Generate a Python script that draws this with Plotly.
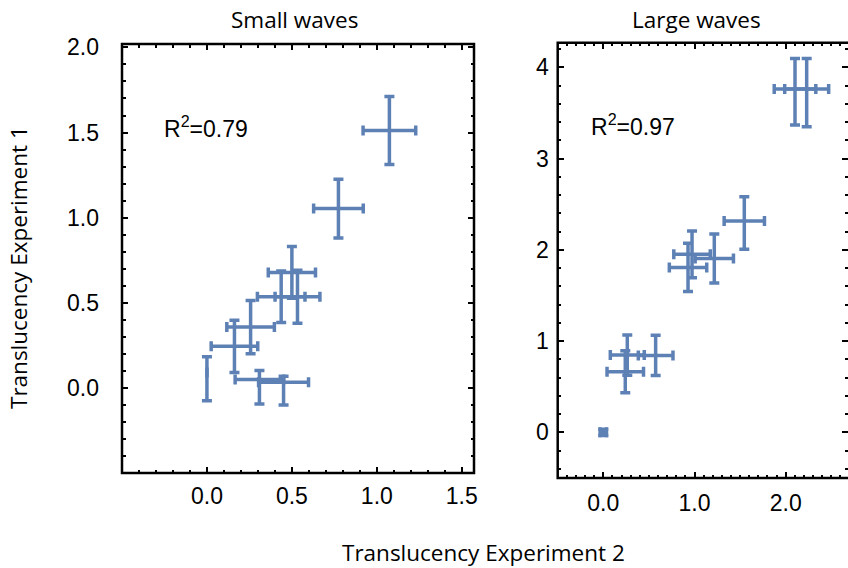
import plotly.graph_objects as go

# ---------------- data ----------------
# Small waves panel
small_x = [1.074, 0.774, 0.500, 0.437, 0.533, 0.257, 0.162, 0.000, 0.309, 0.451]
small_y = [1.512, 1.053, 0.678, 0.535, 0.535, 0.357, 0.244, 0.091, 0.049, 0.033]
small_ex = [0.155, 0.146, 0.139, 0.140, 0.132, 0.140, 0.137, 0.000, 0.143, 0.147]
small_ey_plus = [0.200, 0.172, 0.152, 0.151, 0.156, 0.156, 0.153, 0.092, 0.053, 0.035]
small_ey_minus = [0.200, 0.172, 0.152, 0.151, 0.156, 0.156, 0.153, 0.166, 0.143, 0.133]

# Large waves panel
large_x = [0.000, 0.241, 0.263, 0.574, 0.929, 0.973, 1.217, 1.546, 2.102, 2.230]
large_y = [0.000, 0.664, 0.847, 0.843, 1.808, 1.951, 1.905, 2.316, 3.762, 3.762]
large_ex = [0.035, 0.200, 0.186, 0.190, 0.205, 0.200, 0.210, 0.221, 0.228, 0.241]
large_ey_plus = [0.035, 0.230, 0.220, 0.220, 0.265, 0.256, 0.268, 0.267, 0.336, 0.336]
large_ey_minus = [0.035, 0.230, 0.220, 0.220, 0.265, 0.256, 0.268, 0.310, 0.395, 0.413]

small_xticks = [0.0, 0.5, 1.0, 1.5]
small_xtext = ["0.0", "0.5", "1.0", "1.5"]
small_yticks = [0.0, 0.5, 1.0, 1.5, 2.0]
small_ytext = ["0.0", "0.5", "1.0", "1.5", "2.0"]
large_xticks = [0.0, 1.0, 2.0]
large_xtext = ["0.0", "1.0", "2.0"]
large_yticks = [0, 1, 2, 3, 4]
large_ytext = ["0", "1", "2", "3", "4"]

r2_small = "R<sup>2</sup>=0.79"
r2_large = "R<sup>2</sup>=0.97"

BLUE = "#5E81B5"
W, H = 848, 568

def px(x):
    return x / W

def py(y):
    return 1 - y / H

fig = go.Figure()

def err_trace(x, y, ex, eyp, eym, xa, ya):
    return go.Scatter(
        x=x, y=y, mode="markers", xaxis=xa, yaxis=ya,
        marker=dict(size=1, color=BLUE),
        error_x=dict(type="data", array=ex, color=BLUE, thickness=3.5, width=5),
        error_y=dict(type="data", symmetric=False, array=eyp, arrayminus=eym,
                     color=BLUE, thickness=3.5, width=5),
        showlegend=False, hoverinfo="skip",
    )

fig.add_trace(err_trace(small_x, small_y, small_ex, small_ey_plus, small_ey_minus, "x", "y"))
fig.add_trace(err_trace(large_x, large_y, large_ex, large_ey_plus, large_ey_minus, "x2", "y2"))

tickfont = dict(family="Liberation Sans, Arial, sans-serif", size=23, color="black")

def axis(rng, dom, tv, tt, minor_d, anchor, standoff):
    return dict(
        range=rng, domain=dom, anchor=anchor,
        tickmode="array", tickvals=tv, ticktext=tt,
        ticks="inside", ticklen=6, tickwidth=2, tickcolor="black",
        minor=dict(ticks="inside", dtick=minor_d, tick0=0, ticklen=3.5,
                   tickwidth=2, tickcolor="black", showgrid=False),
        showline=False, mirror="ticks", showgrid=False, zeroline=False,
        tickfont=tickfont, ticklabelstandoff=standoff,
    )

fig.update_layout(
    width=W, height=H, autosize=False,
    margin=dict(l=0, r=0, t=0, b=0, autoexpand=False),
    paper_bgcolor="white", plot_bgcolor="white",
    showlegend=False,
    xaxis=axis([-0.5, 1.572], [px(122), px(474)], small_xticks, small_xtext, 0.1, "y", 7),
    yaxis=axis([-0.5, 2.02], [py(473), py(44)], small_yticks, small_ytext, 0.1, "x", 22),
    xaxis2=axis([-0.5, 2.683], [px(557.7), 1.0], large_xticks, large_xtext, 0.1, "y2", 9),
    yaxis2=axis([-0.5, 4.27], [py(478), py(42.7)], large_yticks, large_ytext, 0.2, "x2", 8),
)

frame = dict(type="rect", line=dict(color="black", width=2.5), fillcolor="rgba(0,0,0,0)", layer="above")
fig.add_shape(xref="x domain", yref="y domain", x0=0, x1=1, y0=0, y1=1, **frame)
fig.add_shape(xref="x2 domain", yref="y2 domain", x0=0, x1=1.03, y0=0, y1=1, **frame)

titlefont = dict(family="Open Sans, sans-serif", size=22.5, color="black")
ann = [
    dict(text="Small waves", x=px(294), y=py(19), font=titlefont),
    dict(text="Large waves", x=px(696), y=py(19), font=titlefont),
    dict(text="Translucency Experiment 2", x=px(483), y=py(552), font=titlefont),
    dict(text="Translucency Experiment 1", x=px(18), y=py(268), font=titlefont, textangle=-90),
]
for a in ann:
    fig.add_annotation(xref="paper", yref="paper", showarrow=False,
                       xanchor="center", yanchor="middle", **a)

r2font = dict(family="Liberation Sans, Arial, sans-serif", size=23, color="black")
fig.add_annotation(text=r2_small, xref="paper", yref="paper", x=px(162), y=py(127),
                   xanchor="left", yanchor="middle", showarrow=False, font=r2font)
fig.add_annotation(text=r2_large, xref="paper", yref="paper", x=px(589), y=py(125),
                   xanchor="left", yanchor="middle", showarrow=False, font=r2font)

fig.write_html("out.html")
